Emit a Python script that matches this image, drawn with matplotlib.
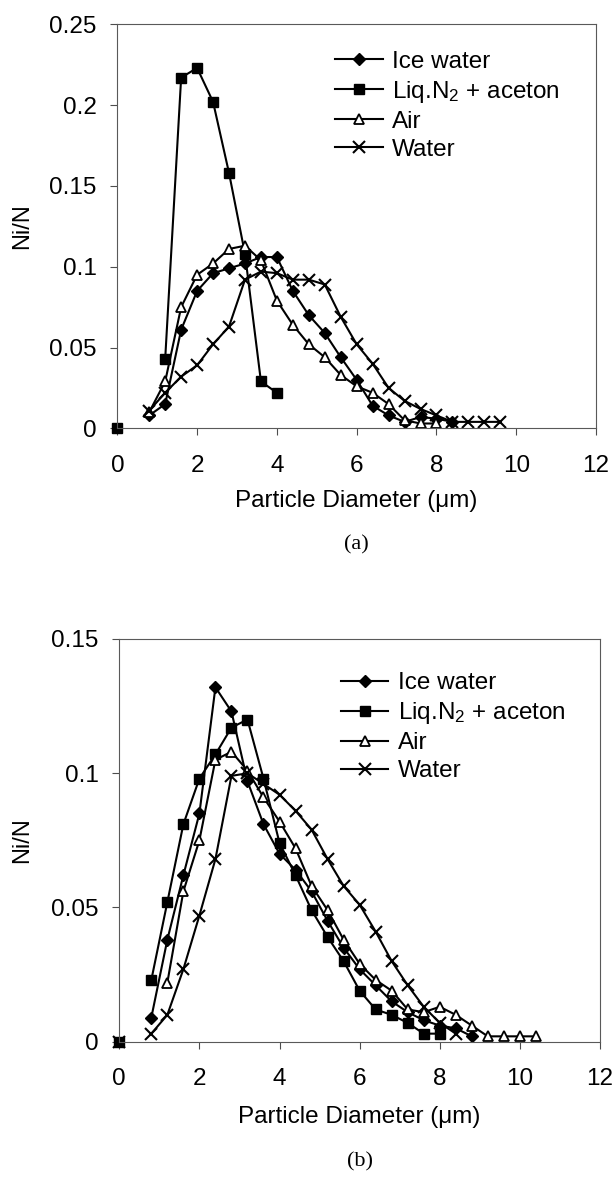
import numpy as np
import matplotlib
matplotlib.use("Agg")
import matplotlib.pyplot as plt
from matplotlib.ticker import FuncFormatter, MultipleLocator

plt.rcParams['font.family'] = ['Liberation Sans', 'DejaVu Sans']
plt.rcParams['mathtext.fontset'] = 'custom'
plt.rcParams['mathtext.rm'] = 'Liberation Sans'
plt.rcParams['mathtext.it'] = 'Liberation Sans:italic'

nan = np.nan
labels = ['Ice water', 'Liq.N$_2$ + aceton', 'Air', 'Water']

# particle diameter grid (um); x = 0 is an isolated point at the origin
diam = [0.0, 0.4, 0.8, 1.2, 1.6, 2.0, 2.4, 2.8, 3.2, 3.6, 4.0, 4.4, 4.8, 5.2,
        5.6, 6.0, 6.4, 6.8, 7.2, 7.6, 8.0, 8.4, 8.8, 9.2, 9.6, 10.0, 10.4]

# panel (a)
a_ice = [nan, nan, 0.008, 0.015, 0.061, 0.085, 0.096, 0.099, 0.102, 0.106, 0.106,
         0.085, 0.070, 0.059, 0.044, 0.030, 0.014, 0.008, 0.004, 0.007, 0.006,
         0.004, nan, nan, nan, nan, nan]
a_liq = [0.0, nan, nan, 0.043, 0.217, 0.223, 0.202, 0.158, 0.108, 0.029, 0.022,
         nan, nan, nan, nan, nan, nan, nan, nan, nan, nan, nan, nan, nan, nan, nan, nan]
a_air = [nan, nan, 0.010, 0.029, 0.075, 0.095, 0.102, 0.111, 0.113, 0.104, 0.079,
         0.064, 0.052, 0.044, 0.033, 0.026, 0.022, 0.015, 0.005, 0.003, 0.003,
         nan, nan, nan, nan, nan, nan]
a_water = [nan, nan, 0.011, 0.022, 0.032, 0.039, 0.052, 0.063, 0.092, 0.097, 0.096,
           0.092, 0.092, 0.089, 0.069, 0.052, 0.040, 0.025, 0.017, 0.012, 0.008,
           0.004, 0.004, 0.004, 0.004, nan, nan]

# panel (b)
b_ice = [nan, nan, 0.009, 0.038, 0.062, 0.085, 0.132, 0.123, 0.097, 0.081, 0.070,
         0.064, 0.056, 0.045, 0.035, 0.027, 0.021, 0.015, 0.011, 0.008, 0.006,
         0.005, 0.002, nan, nan, nan, nan]
b_liq = [0.0, nan, 0.023, 0.052, 0.081, 0.098, 0.107, 0.117, 0.120, 0.098, 0.074,
         0.062, 0.049, 0.039, 0.030, 0.019, 0.012, 0.010, 0.007, 0.003, 0.003,
         nan, nan, nan, nan, nan, nan]
b_air = [nan, nan, nan, 0.022, 0.056, 0.075, 0.105, 0.108, 0.101, 0.091, 0.082,
         0.072, 0.058, 0.049, 0.038, 0.029, 0.023, 0.019, 0.012, 0.011, 0.013,
         0.010, 0.006, 0.002, 0.002, 0.002, 0.002]
b_water = [0.0, nan, 0.003, 0.010, 0.027, 0.047, 0.068, 0.099, 0.100, 0.096, 0.092,
           0.086, 0.079, 0.068, 0.058, 0.051, 0.041, 0.030, 0.021, 0.013, 0.007,
           0.003, nan, nan, nan, nan, nan]

styles = [dict(marker='D', markersize=6.5, markerfacecolor='black', markeredgecolor='black'),
          dict(marker='s', markersize=7, markerfacecolor='black', markeredgecolor='black'),
          dict(marker='^', markersize=7, markerfacecolor='white', markeredgecolor='black',
               markeredgewidth=1.3),
          dict(marker='x', markersize=8.5, markeredgecolor='black', markeredgewidth=1.5)]

fig = plt.figure(figsize=(6.12, 11.8), dpi=100)
ax_a = fig.add_axes([0.1917, 0.6370, 0.7822, 0.3424])
ax_b = fig.add_axes([0.1949, 0.1172, 0.7855, 0.3413])


def draw_panel(ax, series, ymax, leg_xy, xlab_y, ylab_x, tag, tag_y):
    for vals, lab, st in zip(series, labels, styles):
        ax.plot(diam, vals, color='black', linewidth=1.5, label=lab, clip_on=False, **st)
    ax.set_xlim(0, 12)
    ax.set_ylim(0, ymax)
    ax.xaxis.set_major_locator(MultipleLocator(2))
    ax.yaxis.set_major_locator(MultipleLocator(0.05))
    ax.yaxis.set_major_formatter(FuncFormatter(lambda v, p: '%g' % round(v, 3)))
    ax.tick_params(direction='out', length=5, width=0.8, color='0.3', labelsize=17.5)
    ax.tick_params(axis='x', pad=14)
    ax.tick_params(axis='y', pad=10)
    for sp in ax.spines.values():
        sp.set_color('0.35')
        sp.set_linewidth(0.8)
    ax.set_xlabel('Particle Diameter (\u03bcm)', fontsize=17.5)
    ax.set_ylabel('Ni/N', fontsize=17)
    ax.xaxis.set_label_coords(0.5, xlab_y)
    ax.yaxis.set_label_coords(ylab_x, 0.5)
    ax.legend(loc='upper left', bbox_to_anchor=leg_xy, frameon=False, fontsize=17.5,
              borderpad=0, borderaxespad=0, handlelength=1.95, handletextpad=0.4,
              labelspacing=0.25)
    ax.text(0.5, tag_y, tag, transform=ax.transAxes, ha='center', va='center',
            fontsize=16, family='Liberation Serif')


draw_panel(ax_a, [a_ice, a_liq, a_air, a_water], 0.25, (0.455, 0.935),
           -0.152, -0.176, '(a)', -0.289)
draw_panel(ax_b, [b_ice, b_liq, b_air, b_water], 0.15, (0.461, 0.918),
           -0.16, -0.18, '(b)', -0.298)

fig.savefig('out.png', dpi=100)
